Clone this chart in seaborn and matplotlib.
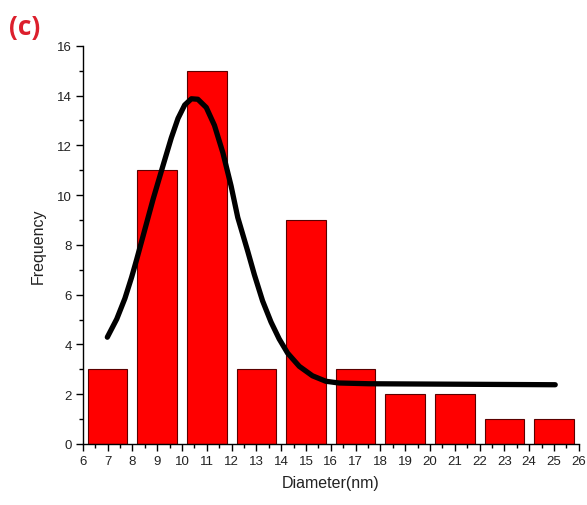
import matplotlib
matplotlib.use("Agg")
import matplotlib.pyplot as plt
from matplotlib.ticker import MultipleLocator
import seaborn as sns
import pandas as pd

# Data
diameters = [7, 9, 11, 13, 15, 17, 19, 21, 23, 25]
counts = [3, 11, 15, 3, 9, 3, 2, 2, 1, 1]

fit_x = [6.99, 7.37, 7.70, 7.97, 8.17, 8.43, 8.84, 9.24, 9.57, 9.84, 10.11, 10.38,
         10.64, 10.98, 11.31, 11.65, 11.98, 12.25, 12.65, 12.92, 13.25, 13.59,
         13.92, 14.26, 14.73, 15.26, 15.80, 16.33, 17.54, 25.05]
fit_y = [4.29, 5.02, 5.85, 6.70, 7.40, 8.35, 9.85, 11.20, 12.30, 13.08, 13.62, 13.87,
         13.85, 13.52, 12.80, 11.70, 10.37, 9.10, 7.75, 6.80, 5.75, 4.90,
         4.22, 3.65, 3.12, 2.74, 2.52, 2.45, 2.42, 2.38]

sns.set_theme(style="ticks")
plt.rcParams['font.family'] = ['Liberation Sans', 'DejaVu Sans']

fig = plt.figure(figsize=(5.87, 5.06), dpi=100)
ax = fig.add_axes([0.141, 0.1206, 0.845, 0.787])

df = pd.DataFrame({"Diameter": diameters, "Frequency": counts})
sns.barplot(data=df, x="Diameter", y="Frequency", native_scale=True, width=0.8,
            color="#FF0000", saturation=1, edgecolor="#5a0000", linewidth=0.8, ax=ax)

fit_df = pd.DataFrame({"x": fit_x, "y": fit_y})
sns.lineplot(data=fit_df, x="x", y="y", color="black", linewidth=3.8, ax=ax,
             sort=False, solid_capstyle="round", solid_joinstyle="round")

ax.set_xlim(6, 26)
ax.set_ylim(0, 16)
ax.xaxis.set_major_locator(MultipleLocator(1))
ax.xaxis.set_minor_locator(MultipleLocator(0.5))
ax.yaxis.set_major_locator(MultipleLocator(2))
ax.yaxis.set_minor_locator(MultipleLocator(1))
ax.tick_params(which="major", direction="out", length=5, width=1, color="black",
               labelsize=9.5, labelcolor="#222222", pad=3)
ax.tick_params(which="minor", direction="out", length=3, width=1, color="black")

for s in ["top", "right"]:
    ax.spines[s].set_visible(False)
for s in ["left", "bottom"]:
    ax.spines[s].set_color("black")
    ax.spines[s].set_linewidth(1)

ax.set_xlabel("Diameter(nm)", fontsize=11.5, color="#222222", labelpad=6)
ax.set_ylabel("Frequency", fontsize=11.5, color="#222222", labelpad=8)

fig.text(0.016, 0.946, "(c)", color="#DC1F2C", fontsize=19, fontweight="bold",
         family=["Open Sans", "DejaVu Sans"], ha="left", va="center")

fig.savefig("out.png", dpi=100)
